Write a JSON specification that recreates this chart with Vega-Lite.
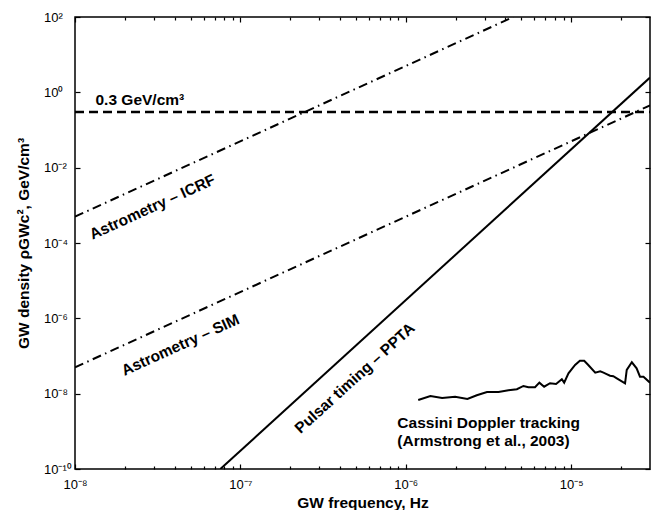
{
  "$schema": "https://vega.github.io/schema/vega-lite/v6.json",
  "width": 575,
  "height": 452,
  "autosize": {"type": "none"},
  "padding": {"left": 75, "top": 17, "right": 9, "bottom": 41},
  "background": "white",
  "config": {
    "view": {"stroke": "black", "strokeWidth": 1.5},
    "font": "Liberation Sans",
    "axis": {"domain": false, "grid": false, "ticks": true, "tickColor": "black", "tickWidth": 1.2, "tickOpacity": 1, "labelColor": "black", "titleColor": "black", "labelFont": "Liberation Sans", "titleFont": "Liberation Sans"}
  },
  "datasets": {
    "lines": [
      {"series": "density", "f": 1e-8, "rho": 0.3},
      {"series": "density", "f": 3e-5, "rho": 0.3},
      {"series": "ICRF", "f": 1e-8, "rho": 5.0e-4},
      {"series": "ICRF", "f": 4.47e-6, "rho": 100},
      {"series": "SIM", "f": 1e-8, "rho": 5.0e-8},
      {"series": "SIM", "f": 3e-5, "rho": 0.45},
      {"series": "PPTA", "f": 7.57e-8, "rho": 1e-10},
      {"series": "PPTA", "f": 3e-5, "rho": 2.46}
    ],
    "cassini": [
      {"f": 1.19e-6, "rho": 6.8e-9},
      {"f": 1.41e-6, "rho": 8.7e-9},
      {"f": 1.66e-6, "rho": 7.7e-9},
      {"f": 1.99e-6, "rho": 8.3e-9},
      {"f": 2.36e-6, "rho": 7.2e-9},
      {"f": 2.69e-6, "rho": 9.1e-9},
      {"f": 3.10e-6, "rho": 1.11e-8},
      {"f": 3.64e-6, "rho": 1.11e-8},
      {"f": 4.18e-6, "rho": 1.23e-8},
      {"f": 4.70e-6, "rho": 1.31e-8},
      {"f": 5.15e-6, "rho": 1.60e-8},
      {"f": 5.52e-6, "rho": 1.48e-8},
      {"f": 6.05e-6, "rho": 1.48e-8},
      {"f": 6.43e-6, "rho": 1.96e-8},
      {"f": 6.87e-6, "rho": 1.53e-8},
      {"f": 7.46e-6, "rho": 1.89e-8},
      {"f": 8.11e-6, "rho": 1.81e-8},
      {"f": 8.79e-6, "rho": 2.41e-8},
      {"f": 9.08e-6, "rho": 1.96e-8},
      {"f": 9.64e-6, "rho": 3.48e-8},
      {"f": 1.057e-5, "rho": 5.78e-8},
      {"f": 1.13e-5, "rho": 7.5e-8},
      {"f": 1.20e-5, "rho": 7.5e-8},
      {"f": 1.27e-5, "rho": 5.78e-8},
      {"f": 1.40e-5, "rho": 3.61e-8},
      {"f": 1.50e-5, "rho": 3.9e-8},
      {"f": 1.57e-5, "rho": 3.61e-8},
      {"f": 1.64e-5, "rho": 3.3e-8},
      {"f": 1.72e-5, "rho": 3.0e-8},
      {"f": 1.80e-5, "rho": 2.9e-8},
      {"f": 1.89e-5, "rho": 2.56e-8},
      {"f": 2.12e-5, "rho": 1.89e-8},
      {"f": 2.17e-5, "rho": 4.26e-8},
      {"f": 2.33e-5, "rho": 6.8e-8},
      {"f": 2.49e-5, "rho": 4.72e-8},
      {"f": 2.61e-5, "rho": 2.83e-8},
      {"f": 2.74e-5, "rho": 2.83e-8},
      {"f": 3.0e-5, "rho": 1.96e-8}
    ]
  },
  "resolve": {"axis": {"x": "independent", "y": "independent"}},
  "layer": [
    {
      "data": {"name": "lines"},
      "transform": [{"filter": "datum.series == 'density'"}],
      "mark": {"type": "line", "color": "black", "strokeWidth": 2.5, "strokeDash": [9, 5], "clip": true},
      "encoding": {
        "x": {
          "field": "f", "type": "quantitative",
          "scale": {"type": "log", "domain": [1e-8, 3e-5], "nice": false},
          "axis": {
            "orient": "bottom",
            "values": [1e-8, 1e-7, 1e-6, 1e-5],
            "offset": -5,
            "tickSize": 5,
            "labelExpr": "datum.value == 1e-8 ? '10⁻⁸' : datum.value == 1e-7 ? '10⁻⁷' : datum.value == 1e-6 ? '10⁻⁶' : '10⁻⁵'",
            "labelFontSize": 13,
            "labelPadding": 9,
            "labelFlush": false,
            "labelOverlap": false,
            "title": "GW frequency, Hz",
            "titleFontSize": 15.5,
            "titleFontWeight": "bold",
            "titlePadding": 4
          }
        },
        "y": {
          "field": "rho", "type": "quantitative",
          "scale": {"type": "log", "domain": [1e-10, 100], "nice": false},
          "axis": {
            "orient": "left",
            "values": [1e-10, 1e-8, 1e-6, 1e-4, 1e-2, 1, 100],
            "offset": -5,
            "tickSize": 5,
            "labelExpr": "datum.value == 1e-10 ? '10⁻¹⁰' : datum.value == 1e-8 ? '10⁻⁸' : datum.value == 1e-6 ? '10⁻⁶' : datum.value == 1e-4 ? '10⁻⁴' : datum.value == 1e-2 ? '10⁻²' : datum.value == 1 ? '10⁰' : '10²'",
            "labelFontSize": 13,
            "labelAlign": "left",
            "labelPadding": 31.5,
            "labelFlush": false,
            "labelOverlap": false,
            "title": "GW density ρGWc², GeV/cm³",
            "titleFontSize": 15.5,
            "titleFontWeight": "bold",
            "titlePadding": 12
          }
        }
      }
    },
    {
      "data": {"name": "lines"},
      "transform": [{"filter": "datum.series == 'PPTA'"}],
      "mark": {"type": "line", "color": "black", "strokeWidth": 2, "clip": true},
      "encoding": {
        "x": {
          "field": "f", "type": "quantitative",
          "axis": {"orient": "top", "values": [1e-8, 1e-7, 1e-6, 1e-5], "offset": -5, "tickSize": 5, "labels": false, "title": null}
        },
        "y": {
          "field": "rho", "type": "quantitative",
          "axis": {"orient": "right", "values": [1e-10, 1e-8, 1e-6, 1e-4, 1e-2, 1, 100], "offset": -5, "tickSize": 5, "labels": false, "title": null}
        }
      }
    },
    {
      "data": {"name": "lines"},
      "transform": [{"filter": "datum.series == 'ICRF' || datum.series == 'SIM'"}],
      "mark": {"type": "line", "color": "black", "strokeWidth": 2, "strokeDash": [9, 4.5, 1.5, 4.5], "clip": true},
      "encoding": {
        "x": {
          "field": "f", "type": "quantitative",
          "axis": {"orient": "bottom", "values": [2e-8, 3e-8, 4e-8, 5e-8, 6e-8, 7e-8, 8e-8, 9e-8, 2e-7, 3e-7, 4e-7, 5e-7, 6e-7, 7e-7, 8e-7, 9e-7, 2e-6, 3e-6, 4e-6, 5e-6, 6e-6, 7e-6, 8e-6, 9e-6, 2e-5], "offset": -3, "tickSize": 3, "labels": false, "title": null}
        },
        "y": {"field": "rho", "type": "quantitative", "axis": null},
        "detail": {"field": "series"}
      }
    },
    {
      "data": {"name": "cassini"},
      "mark": {"type": "line", "color": "black", "strokeWidth": 2, "clip": true},
      "encoding": {
        "x": {
          "field": "f", "type": "quantitative",
          "axis": {"orient": "top", "values": [2e-8, 3e-8, 4e-8, 5e-8, 6e-8, 7e-8, 8e-8, 9e-8, 2e-7, 3e-7, 4e-7, 5e-7, 6e-7, 7e-7, 8e-7, 9e-7, 2e-6, 3e-6, 4e-6, 5e-6, 6e-6, 7e-6, 8e-6, 9e-6, 2e-5], "offset": -3, "tickSize": 3, "labels": false, "title": null}
        },
        "y": {"field": "rho", "type": "quantitative", "axis": null}
      }
    },
    {
      "data": {"values": [{"f": 1.33e-8, "rho": 0.63, "label": "0.3 GeV/cm³"}]},
      "mark": {"type": "text", "align": "left", "baseline": "middle", "fontSize": 15.5, "fontWeight": "bold", "color": "black"},
      "encoding": {
        "x": {"field": "f", "type": "quantitative", "axis": null},
        "y": {"field": "rho", "type": "quantitative", "axis": null},
        "text": {"field": "label"}
      }
    },
    {
      "data": {"values": [{"f": 2.94e-8, "rho": 9.0e-4, "label": "Astrometry – ICRF"}, {"f": 4.34e-8, "rho": 1.96e-7, "label": "Astrometry – SIM"}]},
      "mark": {"type": "text", "align": "center", "baseline": "middle", "angle": -24.5, "fontSize": 15.5, "fontWeight": "bold", "color": "black"},
      "encoding": {
        "x": {"field": "f", "type": "quantitative", "axis": null},
        "y": {"field": "rho", "type": "quantitative", "axis": null},
        "text": {"field": "label"}
      }
    },
    {
      "data": {"values": [{"f": 4.92e-7, "rho": 2.58e-8, "label": "Pulsar timing – PPTA"}]},
      "mark": {"type": "text", "align": "center", "baseline": "middle", "angle": -42.3, "fontSize": 15.5, "fontWeight": "bold", "color": "black"},
      "encoding": {
        "x": {"field": "f", "type": "quantitative", "axis": null},
        "y": {"field": "rho", "type": "quantitative", "axis": null},
        "text": {"field": "label"}
      }
    },
    {
      "data": {"values": [{"f": 8.9e-7, "rho": 1.64e-9, "label": "Cassini Doppler tracking"}, {"f": 8.9e-7, "rho": 5.55e-10, "label": "(Armstrong et al., 2003)"}]},
      "mark": {"type": "text", "align": "left", "baseline": "middle", "fontSize": 15.5, "fontWeight": "bold", "color": "black"},
      "encoding": {
        "x": {"field": "f", "type": "quantitative", "axis": null},
        "y": {"field": "rho", "type": "quantitative", "axis": null},
        "text": {"field": "label"}
      }
    }
  ]
}
